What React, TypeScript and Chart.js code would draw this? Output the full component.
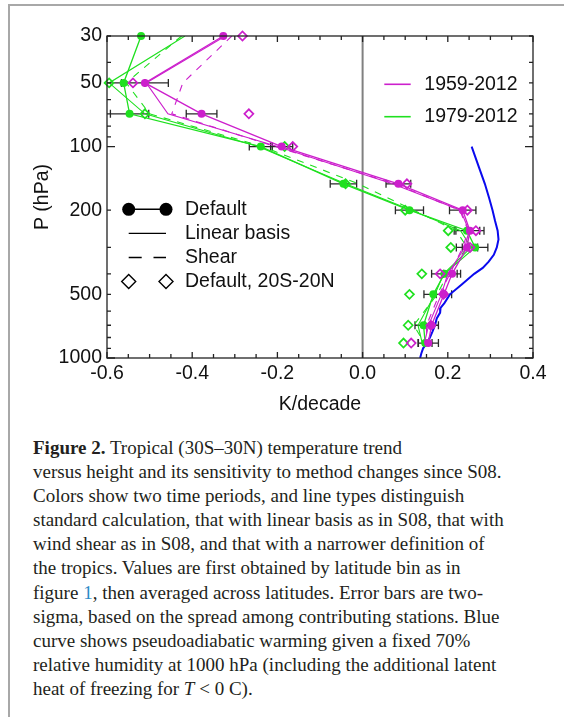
import React, { useEffect, useRef } from 'react';
import { Chart, registerables } from 'chart.js';

Chart.register(...registerables);

// ---------------- data ----------------
const pressureLevels = [30, 50, 70, 100, 150, 200, 250, 300, 400, 500, 700, 850];

// 1959-2012 (magenta)
const trend5912Default = [-0.327, -0.511, -0.378, -0.19, 0.084, 0.235, 0.252, 0.245, 0.21, 0.191, 0.162, 0.154];
const err5912Default = [null, 0.055, 0.036, 0.026, 0.029, 0.031, 0.033, 0.025, 0.02, 0.018, 0.016, 0.024];
const trend5912Linear = [-0.322, -0.508, -0.457, -0.2, 0.07, 0.23, 0.25, 0.24, 0.2, 0.185, 0.155, 0.145];
const trend5912Shear = [-0.307, -0.422, -0.448, -0.205, 0.075, 0.228, 0.248, 0.235, 0.205, 0.18, 0.15, 0.15];
const trend5912Narrow = [-0.282, -0.539, -0.267, -0.164, 0.104, 0.246, 0.266, 0.252, 0.182, 0.19, 0.16, 0.114];

// 1979-2012 (green)
const trend7912Default = [-0.52, -0.561, -0.547, -0.239, -0.045, 0.11, 0.245, 0.264, 0.192, 0.166, 0.143, 0.147];
const err7912Default = [null, 0.05, 0.045, 0.027, 0.031, 0.033, 0.03, 0.03, 0.03, 0.022, 0.02, 0.016];
const trend7912Linear = [-0.417, -0.595, -0.511, -0.245, -0.04, 0.115, 0.23, 0.255, 0.19, 0.17, 0.13, 0.14];
const trend7912Shear = [-0.425, -0.555, -0.5, -0.235, -0.01, 0.12, 0.22, 0.245, 0.2, 0.175, 0.12, 0.145];
const trend7912Narrow = [null, -0.595, -0.511, -0.183, -0.04, 0.1, 0.201, 0.207, 0.139, 0.11, 0.107, 0.096];

// pseudoadiabatic warming (blue)
const bluePressure = [100, 125, 150, 175, 200, 225, 250, 275, 300, 325, 350, 375, 400, 450, 500, 550, 580, 610, 650, 700, 750, 800, 850, 900, 950, 1000];
const blueTrend = [0.256, 0.273, 0.287, 0.297, 0.305, 0.311, 0.317, 0.319, 0.315, 0.308, 0.296, 0.282, 0.262, 0.232, 0.205, 0.192, 0.183, 0.182, 0.174, 0.17, 0.164, 0.158, 0.151, 0.142, 0.138, 0.135];

// axes
const yTickLabels = [30, 50, 100, 200, 500, 1000];
const yMinorTicks = [40, 60, 70, 80, 90, 300, 400, 600, 700, 800, 900];
const yDecadeTicks = [100, 1000];
const xMin = -0.6;
const xMax = 0.4;
const xStep = 0.2;
const xMinorStep = 0.05;

const periodLabels = ['1959-2012', '1979-2012'];
const methodLabels = ['Default', 'Linear basis', 'Shear', 'Default, 20S-20N'];

const MAG = '#cc1fcc';
const GRN = '#1fe01f';
const BLUE = '#0a0aee';
const periodColors = [MAG, GRN];
const FONT = '"Liberation Sans", Arial, Helvetica, sans-serif';
const FS = 19.5;

function pts(vals: (number | null)[], levels: number[]) {
  const out: { x: number; y: number }[] = [];
  levels.forEach((p, i) => {
    const v = vals[i];
    if (v !== null && v !== undefined) out.push({ x: v, y: p });
  });
  return out;
}

const errorGroups = [
  { trend: trend5912Default, err: err5912Default },
  { trend: trend7912Default, err: err7912Default },
];

const figPlugin = {
  id: 'figPlugin',
  beforeDatasetsDraw(chart: any) {
    const { ctx, chartArea: ca } = chart;
    const xs = chart.scales.x;
    const ys = chart.scales.y;
    ctx.save();
    // zero line
    const x0 = xs.getPixelForValue(0);
    ctx.strokeStyle = '#808080';
    ctx.lineWidth = 2;
    ctx.beginPath();
    ctx.moveTo(x0, ca.top);
    ctx.lineTo(x0, ca.bottom);
    ctx.stroke();
    // error bars
    ctx.strokeStyle = '#2a2a2a';
    ctx.lineWidth = 1.3;
    ctx.beginPath();
    errorGroups.forEach((g) => {
      pressureLevels.forEach((p, i) => {
        const e = g.err[i];
        const t = g.trend[i];
        if (e === null || t === null) return;
        const py = ys.getPixelForValue(p);
        const xl = Math.max(xs.getPixelForValue(t - e), ca.left);
        const xr = xs.getPixelForValue(t + e);
        ctx.moveTo(xl, py);
        ctx.lineTo(xr, py);
        if (xs.getPixelForValue(t - e) >= ca.left) {
          ctx.moveTo(xl, py - 4);
          ctx.lineTo(xl, py + 4);
        }
        ctx.moveTo(xr, py - 4);
        ctx.lineTo(xr, py + 4);
      });
    });
    ctx.stroke();
    ctx.restore();
  },
  afterDraw(chart: any) {
    const { ctx, chartArea: ca } = chart;
    const xs = chart.scales.x;
    const ys = chart.scales.y;
    ctx.save();
    // frame
    ctx.strokeStyle = '#222';
    ctx.lineWidth = 1.3;
    ctx.strokeRect(ca.left, ca.top, ca.right - ca.left, ca.bottom - ca.top);
    // x ticks (inward, bottom and top)
    ctx.beginPath();
    const nMinor = Math.round((xMax - xMin) / xMinorStep);
    const per = Math.round(xStep / xMinorStep);
    for (let k = 0; k <= nMinor; k++) {
      const v = xMin + k * xMinorStep;
      const px = xs.getPixelForValue(v);
      const len = k % per === 0 ? 6 : 4;
      ctx.moveTo(px, ca.bottom);
      ctx.lineTo(px, ca.bottom - len);
      ctx.moveTo(px, ca.top);
      ctx.lineTo(px, ca.top + len);
    }
    // y ticks (inward, left and right)
    [...yTickLabels, ...yMinorTicks].forEach((p) => {
      const py = ys.getPixelForValue(p);
      const len = yDecadeTicks.includes(p) ? 8 : 4;
      ctx.moveTo(ca.left, py);
      ctx.lineTo(ca.left + len, py);
      ctx.moveTo(ca.right, py);
      ctx.lineTo(ca.right - len, py);
    });
    ctx.stroke();

    // legend 1 : periods
    ctx.font = `${FS}px ${FONT}`;
    ctx.textBaseline = 'middle';
    ctx.textAlign = 'left';
    const l1x = ca.left + 277.3;
    const l1y = ca.top + 48.3;
    periodLabels.forEach((lab, i) => {
      const yy = l1y + i * 32.4;
      ctx.strokeStyle = periodColors[i];
      ctx.lineWidth = 1.6;
      ctx.beginPath();
      ctx.moveTo(l1x, yy);
      ctx.lineTo(l1x + 26.4, yy);
      ctx.stroke();
      ctx.fillStyle = '#111';
      ctx.fillText(lab, l1x + 40, yy);
    });

    // legend 2 : methods
    const sx1 = ca.left + 21.7;
    const sx2 = ca.left + 59;
    const tx = ca.left + 78;
    const l2y = ca.top + 173.3;
    const dy = 24.1;
    ctx.strokeStyle = '#000';
    ctx.fillStyle = '#000';
    ctx.lineWidth = 1.4;
    methodLabels.forEach((lab, i) => {
      const yy = l2y + i * dy;
      ctx.setLineDash([]);
      if (i === 0) {
        ctx.beginPath();
        ctx.moveTo(sx1, yy);
        ctx.lineTo(sx2, yy);
        ctx.stroke();
        [sx1, sx2].forEach((cx) => {
          ctx.beginPath();
          ctx.arc(cx, yy, 6.5, 0, Math.PI * 2);
          ctx.fill();
        });
      } else if (i === 1) {
        ctx.beginPath();
        ctx.moveTo(sx1, yy);
        ctx.lineTo(sx2, yy);
        ctx.stroke();
      } else if (i === 2) {
        ctx.beginPath();
        ctx.moveTo(sx1, yy);
        ctx.lineTo(sx1 + 13, yy);
        ctx.moveTo(sx2 - 12.5, yy);
        ctx.lineTo(sx2, yy);
        ctx.stroke();
      } else {
        [sx1, sx2].forEach((cx) => {
          ctx.beginPath();
          ctx.moveTo(cx - 7, yy);
          ctx.lineTo(cx, yy - 7);
          ctx.lineTo(cx + 7, yy);
          ctx.lineTo(cx, yy + 7);
          ctx.closePath();
          ctx.stroke();
        });
      }
      ctx.fillStyle = '#111';
      ctx.fillText(lab, tx, yy);
      ctx.fillStyle = '#000';
    });
    ctx.restore();
  },
};

function periodDatasets(color: string, def: any[], lin: any[], shear: any[], narrow: any[], name: string) {
  return [
    {
      label: `${name} Default`,
      data: pts(def, pressureLevels),
      showLine: true,
      borderColor: color,
      backgroundColor: color,
      borderWidth: 1.3,
      pointRadius: 4,
      pointStyle: 'circle',
      pointBorderWidth: 0,
      clip: 8,
    },
    {
      label: `${name} Linear basis`,
      data: pts(lin, pressureLevels),
      showLine: true,
      borderColor: color,
      borderWidth: 1.1,
      pointRadius: 0,
    },
    {
      label: `${name} Shear`,
      data: pts(shear, pressureLevels),
      showLine: true,
      borderColor: color,
      borderWidth: 1.1,
      borderDash: [7, 7],
      pointRadius: 0,
    },
    {
      label: `${name} Default, 20S-20N`,
      data: pts(narrow, pressureLevels),
      showLine: false,
      borderColor: color,
      backgroundColor: 'rgba(0,0,0,0)',
      pointStyle: 'rectRot',
      pointRadius: 4.5,
      pointBorderWidth: 1.7,
      clip: 8,
    },
  ];
}

export default function App() {
  const ref = useRef<HTMLCanvasElement | null>(null);

  useEffect(() => {
    if (!ref.current) return;
    Chart.defaults.font.family = FONT;
    Chart.defaults.color = '#111';
    const chart = new Chart(ref.current, {
      type: 'scatter',
      data: {
        datasets: [
          ...periodDatasets(MAG, trend5912Default, trend5912Linear, trend5912Shear, trend5912Narrow, periodLabels[0]),
          ...periodDatasets(GRN, trend7912Default, trend7912Linear, trend7912Shear, trend7912Narrow, periodLabels[1]),
          {
            label: 'Pseudoadiabatic',
            data: pts(blueTrend, bluePressure),
            showLine: true,
            borderColor: BLUE,
            borderWidth: 2,
            pointRadius: 0,
          },
        ] as any,
      },
      options: {
        animation: false,
        responsive: false,
        events: [],
        layout: { padding: { top: 36, right: 31, left: 0, bottom: 0 } },
        plugins: { legend: { display: false }, tooltip: { enabled: false } },
        scales: {
          x: {
            type: 'linear',
            position: 'bottom',
            min: xMin,
            max: xMax,
            grid: { display: false, drawTicks: false },
            border: { display: false },
            ticks: {
              stepSize: xStep,
              padding: 4,
              font: { size: FS },
              color: '#111',
              callback: (v: any) => {
                const n = Number(v);
                return Math.abs(n) < 1e-9 ? '0.0' : n.toFixed(1);
              },
            },
            title: {
              display: true,
              text: 'K/decade',
              font: { size: FS },
              color: '#111',
              padding: { top: 0, bottom: 3.3 },
            },
            afterFit: (s: any) => {
              s.height = 62;
            },
          },
          y: {
            type: 'logarithmic',
            position: 'left',
            reverse: true,
            min: 30,
            max: 1000,
            grid: { display: false, drawTicks: false },
            border: { display: false },
            afterBuildTicks: (s: any) => {
              s.ticks = yTickLabels.map((v) => ({ value: v }));
            },
            ticks: {
              autoSkip: false,
              padding: 5,
              font: { size: FS },
              color: '#111',
              callback: (v: any) => String(v),
            },
            title: {
              display: true,
              text: 'P (hPa)',
              font: { size: FS },
              color: '#111',
              padding: { top: 31, bottom: 0 },
            },
            afterFit: (s: any) => {
              s.width = 107;
            },
          },
        },
      } as any,
      plugins: [figPlugin],
    });
    return () => chart.destroy();
  }, []);

  const captionLines: React.ReactNode[] = [
    <>
      <b>Figure 2.</b> Tropical (30S–30N) temperature trend
    </>,
    <>versus height and its sensitivity to method changes since S08.</>,
    <>Colors show two time periods, and line types distinguish</>,
    <>standard calculation, that with linear basis as in S08, that with</>,
    <>wind shear as in S08, and that with a narrower definition of</>,
    <>the tropics. Values are first obtained by latitude bin as in</>,
    <>
      figure <span style={{ color: '#2b8ac6' }}>1</span>, then averaged across latitudes. Error bars are two-
    </>,
    <>sigma, based on the spread among contributing stations. Blue</>,
    <>curve shows pseudoadiabatic warming given a fixed 70%</>,
    <>relative humidity at 1000 hPa (including the additional latent</>,
    <>
      heat of freezing for <i>T</i> &lt; 0 C).
    </>,
  ];

  return (
    <div style={{ position: 'fixed', left: 0, top: 0, width: 564, height: 717, overflow: 'hidden', background: '#fff' }}>
      <div
        style={{
          position: 'absolute',
          left: 8,
          top: 4,
          width: 700,
          height: 900,
          borderTop: '2px solid #a8a8a8',
          borderLeft: '2px solid #a8a8a8',
        }}
      />
      <canvas ref={ref} width={564} height={420} style={{ position: 'absolute', left: 0, top: 0, width: 564, height: 420 }} />
      <div
        style={{
          position: 'absolute',
          left: 33,
          top: 436,
          fontFamily: '"Liberation Serif", "Times New Roman", serif',
          fontSize: 19,
          lineHeight: '24.1px',
          color: '#231f20',
          whiteSpace: 'nowrap',
        }}
      >
        {captionLines.map((l, i) => (
          <div key={i}>{l}</div>
        ))}
      </div>
    </div>
  );
}
